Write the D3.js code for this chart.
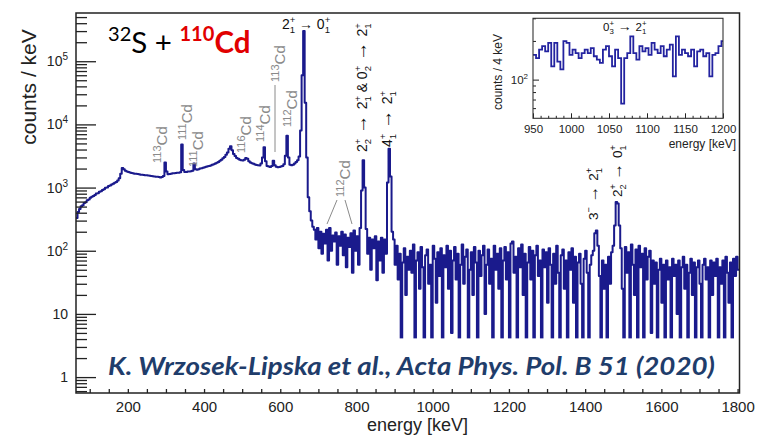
<!DOCTYPE html>
<html><head><meta charset="utf-8">
<script src="https://cdn.jsdelivr.net/npm/d3@7"></script>
<style>body{margin:0;background:#fff}svg{display:block}</style>
</head><body>
<svg id="chart" width="757" height="438"></svg>
<script>
// ---------------- data ----------------
const binStart = 64;      // keV, lower edge of first bin
const binWidth = 4;       // keV
// counts / keV, rows of 10 bins (40 keV); row start energy in comment
const counts = [
/*  64 */ 330,410,460,505,525,570,585,630,645,690,
/* 104 */ 715,735,765,805,815,855,875,915,945,995,
/* 144 */ 1005,1055,1075,1115,1145,1195,1225,1295,1400,1650,
/* 184 */ 2050,1950,1850,1800,1760,1730,1700,1680,1660,1650,
/* 224 */ 1640,1620,1600,1590,1580,1570,1560,1550,1540,1530,
/* 264 */ 1510,1500,1490,1480,1470,1450,1470,1520,2500,1800,
/* 304 */ 1620,1640,1660,1680,1690,1700,1710,1720,1750,4800,
/* 344 */ 1900,1760,1770,1790,1800,1820,1850,2400,1950,1920,
/* 384 */ 1950,2000,2020,2060,2100,2130,2170,2200,2240,2300,
/* 424 */ 2350,2400,2480,2550,2650,2750,2900,3050,3300,3600,
/* 464 */ 4100,4500,3900,3400,3150,2950,2850,2750,2700,2680,
/* 504 */ 2750,2950,2850,2600,2500,2420,2380,2320,2280,2250,
/* 544 */ 2230,2400,3000,4350,2600,2200,2150,2120,2200,2650,
/* 584 */ 2250,2130,2100,2120,2150,2200,2350,3200,6600,3000,
/* 624 */ 2300,2250,2300,2400,2550,2700,3100,8000,60000,300000,
/* 664 */ 22000,3000,700,420,300,240,215,150,230,110,
/* 704 */ 200,90,185,130,215,70,230,100,175,140,
/* 744 */ 195,60,170,120,200,85,180,55,160,115,
/* 784 */ 190,45,210,100,170,60,230,900,2700,1000,
/* 824 */ 220,90,160,50,150,110,170,34,140,70,
/* 864 */ 160,45,150,90,1200,4100,1500,200,150,60,
/* 904 */ 120,35,90,2,65,110,20,80,50,100,
/* 944 */ 45,125,3,70,95,25,115,55,2,85,
/* 984 */ 105,30,60,2,120,75,15,95,40,110,
/*1024 */ 2,85,55,120,25,100,5,70,115,35,
/*1064 */ 90,2,60,125,30,80,105,3,50,95,
/*1104 */ 20,115,65,2,100,40,85,120,10,60,
/*1144 */ 105,30,75,2,120,50,90,25,110,3,
/*1184 */ 70,115,35,95,2,130,140,45,80,4,
/*1224 */ 110,55,125,20,90,2,65,115,35,100,
/*1264 */ 3,85,120,40,70,2,105,55,95,15,
/*1304 */ 110,60,2,90,30,120,45,3,85,105,
/*1344 */ 25,70,2,95,50,110,15,80,2,65,
/*1384 */ 90,30,2,75,100,45,3,60,85,100,
/*1424 */ 190,210,120,40,2,70,25,60,3,80,
/*1464 */ 30,95,120,250,590,560,250,110,25,2,
/*1504 */ 115,45,95,2,125,60,20,105,3,120,
/*1544 */ 55,90,2,110,35,80,100,5,70,30,
/*1584 */ 65,2,50,75,15,60,2,70,35,55,
/*1624 */ 3,75,40,60,10,70,2,55,80,25,
/*1664 */ 60,2,45,75,20,65,3,55,70,30,
/*1704 */ 2,60,75,35,55,2,70,20,65,40,
/*1744 */ 75,3,55,30,70,2,80,45,15,65,
/*1784 */ 2,75,40,80,50
];
const insetBinStart = 950;
const insetBinWidth = 4;
const insetCounts = [
 156,147,171,182,166,193,127,193,138,120,
 199,193,156,171,161,147,161,171,161,176,
 152,143,135,171,182,152,127,171,147,65,
 147,161,217,161,143,182,166,176,156,193,
 171,161,182,152,171,187,106,217,156,171,
 161,152,171,127,166,171,152,161,106,156,
 161,182,199
];
const xTickLabels = [200,400,600,800,1000,1200,1400,1600,1800];
const yTickLabels = [1,10,100,1000,10000,100000];
const insetXTickLabels = [950,1000,1050,1100,1150,1200];
const insetYTickLabels = [100];

// ---------------- layout ----------------
const svg = d3.select("#chart");
const P = {l:76, r:739.5, t:13, b:393};
const x = d3.scaleLinear().domain([64,1805]).range([P.l,P.r]);
const y = d3.scaleLog().domain([0.56,5.8e5]).range([P.b,P.t]);
const AX = "'Liberation Sans', Arial, Helvetica, sans-serif";
const ink = "#222";
const specColor = "#1a1a8c";

svg.append("defs").append("clipPath").attr("id","clip")
  .append("rect").attr("x",P.l).attr("y",P.t).attr("width",P.r-P.l).attr("height",P.b-P.t);

// spectrum
const pts = counts.map((c,i)=>[binStart+i*binWidth,c]);
pts.push([binStart+counts.length*binWidth, counts[counts.length-1]]);
const line = d3.line().x(d=>x(d[0])).y(d=>y(d[1])).curve(d3.curveStepAfter);
svg.append("path").attr("clip-path","url(#clip)").attr("d",line(pts))
  .attr("fill","none").attr("stroke",specColor).attr("stroke-width",2).attr("stroke-linejoin","round");

// white citation box
svg.append("rect").attr("x",100).attr("y",y(4.1)).attr("width",P.r-100).attr("height",P.b-1.5-y(4.1)).attr("fill","#fff");

// axes
const isMajor = v => Math.abs(Math.log10(v)-Math.round(Math.log10(v)))<1e-6;
const yMinor = y.ticks().filter(v=>!isMajor(v));
const yMajor = y.ticks().filter(isMajor);
function clean(g){ g.select(".domain").remove(); g.selectAll("line").attr("stroke",ink).attr("stroke-width",1.3); }
svg.append("g").attr("transform",`translate(${P.l},0)`)
  .call(d3.axisRight(y).tickValues(yMinor).tickSize(11).tickFormat("")).call(clean);
svg.append("g").attr("transform",`translate(${P.l},0)`)
  .call(d3.axisRight(y).tickValues(yMajor).tickSize(20).tickFormat("")).call(clean);
const yl = svg.append("g").attr("transform",`translate(${P.l},0)`)
  .call(d3.axisLeft(y).tickValues(yTickLabels).tickSize(0).tickPadding(8).tickFormat(""));
yl.select(".domain").remove();
yl.selectAll("text").each(function(v){
  const t = d3.select(this).attr("font-family",AX).attr("font-size",14).attr("fill",ink);
  const e = Math.round(Math.log10(v));
  if (e<=1) { t.text(String(v)); }
  else { t.append("tspan").text("10"); t.append("tspan").attr("dy",-6).attr("font-size",10).text(String(e)); }
});
svg.append("g").attr("transform",`translate(0,${P.b})`)
  .call(d3.axisTop(x).tickValues(d3.range(100,1801,50)).tickSize(4).tickFormat("")).call(clean);
const xl = svg.append("g").attr("transform",`translate(0,${P.b})`)
  .call(d3.axisBottom(x).tickValues(xTickLabels).tickSize(0).tickPadding(8).tickFormat(d3.format("d")));
xl.select(".domain").remove();
xl.selectAll("text").attr("font-family",AX).attr("font-size",15).attr("fill",ink);

svg.append("rect").attr("x",P.l).attr("y",P.t).attr("width",P.r-P.l).attr("height",P.b-P.t)
  .attr("fill","none").attr("stroke",ink).attr("stroke-width",1.5);

svg.append("text").attr("transform","translate(36,87) rotate(-90)").attr("text-anchor","middle")
  .attr("font-family",AX).attr("font-size",21).attr("fill",ink).text("counts / keV");
svg.append("text").attr("x",468).attr("y",431).attr("text-anchor","end")
  .attr("font-family",AX).attr("font-size",18).attr("fill",ink).text("energy [keV]");

// rich text helper: parts are strings or {text|sup|sub, fill, weight, size}
function rich(sel, parts, size, attrs){
  const t = sel.append("text").attr("font-size",size);
  Object.entries(attrs||{}).forEach(([k,v])=>t.attr(k,v));
  let cur = 0; const small = size*0.68;
  parts.forEach(p=>{
    if (typeof p==="string") p={text:p};
    const style = s=>{ if(p.fill) s.attr("fill",p.fill); if(p.weight) s.attr("font-weight",p.weight); return s; };
    if (p.text!==undefined){ const s=style(t.append("tspan").attr("dy",0-cur).text(p.text)); if(p.size) s.attr("font-size",p.size); cur=0; }
    let w=0;
    if (p.sup){ const s=style(t.append("tspan").attr("dy",-size*0.42-cur).attr("font-size",p.supSize||small).text(p.sup)); cur=-size*0.42; w=s.node().getComputedTextLength(); }
    if (p.sub){ style(t.append("tspan").attr("dx",p.sup?-w:0).attr("dy",size*0.3-cur).attr("font-size",small).text(p.sub)); cur=size*0.3; }
  });
  return t;
}
const ann = svg.append("g").attr("font-family",AX);
function rot(xp,yp){ return ann.append("g").attr("transform",`translate(${xp},${yp}) rotate(-90)`); }
const blk = "#111", gry = "#8a8a8a";
const arrow = s => ({text:" → ", size:s});

// transition labels
rich(ann.append("g").attr("transform","translate(282,29)"),["2",{sup:"+",sub:"1"}," → 0",{sup:"+",sub:"1"}],14,{fill:blk});
rich(rot(367,152),["2",{sup:"+",sub:"2"},arrow(19),"2",{sup:"+",sub:"1"},"  &  0",{sup:"+",sub:"2"},arrow(19),"2",{sup:"+",sub:"1"}],14,{fill:blk});
rich(rot(392,147),["4",{sup:"+",sub:"1"},arrow(19),"2",{sup:"+",sub:"1"}],14,{fill:blk});
rich(rot(598,220),["3",{sup:"−"},arrow(17),"2",{sup:"+",sub:"1"}],13.5,{fill:blk});
rich(rot(622,197),["2",{sup:"+",sub:"2"},arrow(17),"0",{sup:"+",sub:"1"}],13.5,{fill:blk});

// Cd contaminant labels
[[167,163,"113"],[192,140,"111"],[203,167,"111"],[251,153,"116"],[270,142,"114"],[285,82,"113"],[297,127,"112"],[350,197,"112"]]
 .forEach(([xp,yp,m])=>rich(rot(xp,yp),[{sup:m,supSize:11},"Cd"],15,{fill:gry}));
ann.append("line").attr("x1",275).attr("y1",85).attr("x2",275).attr("y2",152).attr("stroke",gry).attr("stroke-width",1);
ann.append("line").attr("x1",337).attr("y1",200).attr("x2",327).attr("y2",224).attr("stroke",gry).attr("stroke-width",1);
ann.append("line").attr("x1",345).attr("y1",200).attr("x2",352).attr("y2",224).attr("stroke",gry).attr("stroke-width",1);

// title
rich(svg.append("g").attr("transform","translate(108,53)"),
  [{sup:"32"},"S + ",{sup:"110",fill:"#e10000",weight:"bold"},{text:"Cd",fill:"#e10000",weight:"bold"}],
  29.5,{"font-family":"Lato, 'Open Sans', sans-serif",fill:"#000"});

// citation
svg.append("text").attr("x",108).attr("y",375).attr("font-family","Lato, 'Open Sans', sans-serif")
  .attr("font-size",24).attr("font-weight","bold").attr("font-style","italic").attr("fill","#1f3d6b")
  .attr("textLength",607).attr("lengthAdjust","spacingAndGlyphs")
  .text("K. Wrzosek-Lipska et al., Acta Phys. Pol. B 51 (2020)");

// ---------------- inset ----------------
const I = {l:533, r:723, t:18.3, b:118.3};
const xi = d3.scaleLinear().domain([950,1200]).range([I.l,I.r]);
const yi = d3.scaleLog().domain([50,300]).range([I.b,I.t]);
const ins = svg.append("g");
ins.append("rect").attr("x",I.l).attr("y",I.t).attr("width",I.r-I.l).attr("height",I.b-I.t).attr("fill","#fff");
ins.append("defs").append("clipPath").attr("id","iclip").append("rect")
  .attr("x",I.l).attr("y",I.t).attr("width",I.r-I.l).attr("height",I.b-I.t);
const ipts = insetCounts.map((c,i)=>[insetBinStart+i*insetBinWidth,c]);
ipts.push([insetBinStart+insetCounts.length*insetBinWidth, insetCounts[insetCounts.length-1]]);
const iline = d3.line().x(d=>xi(d[0])).y(d=>yi(d[1])).curve(d3.curveStepAfter);
ins.append("path").attr("clip-path","url(#iclip)").attr("d",iline(ipts))
  .attr("fill","none").attr("stroke","#2323a0").attr("stroke-width",1.8);
const iyMinor = [60,70,80,90,200,300];
ins.append("g").attr("transform",`translate(${I.l},0)`)
  .call(d3.axisRight(yi).tickValues(iyMinor).tickSize(3).tickFormat("")).call(clean);
ins.append("g").attr("transform",`translate(${I.l},0)`)
  .call(d3.axisRight(yi).tickValues(insetYTickLabels).tickSize(6).tickFormat("")).call(clean);
ins.append("g").attr("transform",`translate(0,${I.b})`)
  .call(d3.axisTop(xi).tickValues(d3.range(960,1200,10).filter(v=>v%50)).tickSize(2.5).tickFormat("")).call(clean);
ins.append("g").attr("transform",`translate(0,${I.b})`)
  .call(d3.axisTop(xi).tickValues(insetXTickLabels).tickSize(5).tickFormat("")).call(clean);
ins.selectAll("line").attr("stroke-width",1);
const ixl = ins.append("g").attr("transform",`translate(0,${I.b})`)
  .call(d3.axisBottom(xi).tickValues(insetXTickLabels).tickSize(0).tickPadding(7).tickFormat(d3.format("d")));
ixl.select(".domain").remove();
ixl.selectAll("text").attr("font-family",AX).attr("font-size",11.5).attr("fill",ink);
const iyl = ins.append("text").attr("x",528).attr("y",yi(100)+4).attr("text-anchor","end")
  .attr("font-family",AX).attr("font-size",11.5).attr("fill",ink);
iyl.append("tspan").text("10"); iyl.append("tspan").attr("dy",-5).attr("font-size",8).text("2");
ins.append("rect").attr("x",I.l).attr("y",I.t).attr("width",I.r-I.l).attr("height",I.b-I.t)
  .attr("fill","none").attr("stroke","#333").attr("stroke-width",1.1);
ins.append("text").attr("transform","translate(502,72) rotate(-90)").attr("text-anchor","middle")
  .attr("font-family",AX).attr("font-size",12).attr("fill",ink).text("counts / 4 keV");
ins.append("text").attr("x",736).attr("y",148).attr("text-anchor","end")
  .attr("font-family",AX).attr("font-size",12).attr("fill",ink).text("energy [keV]");
rich(ins.append("g").attr("transform","translate(603,31)"),["0",{sup:"+",sub:"3"},{text:" → ",size:14},"2",{sup:"+",sub:"1"}],11.5,{"font-family":AX,fill:blk});
</script>
</body></html>
